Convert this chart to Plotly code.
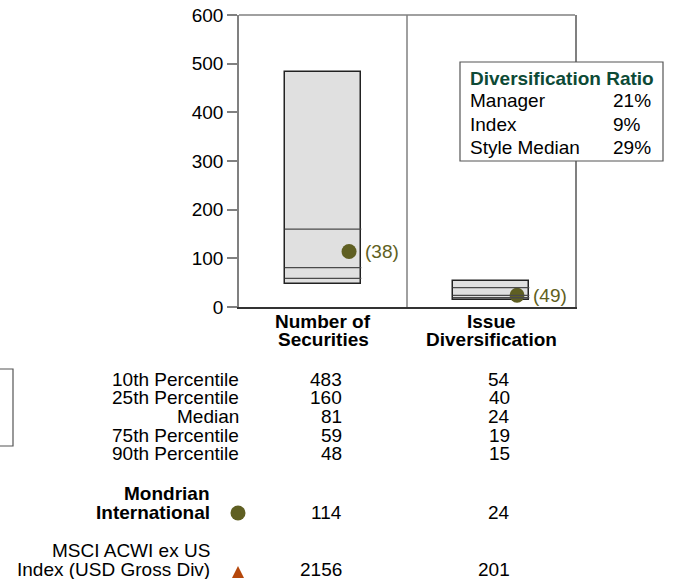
import plotly.graph_objects as go

# ---- data ----
cat_line1 = ["Number of", "Issue"]
cat_line2 = ["Securities", "Diversification"]
p10 = [483, 54]
p25 = [160, 40]
median = [81, 24]
p75 = [59, 19]
p90 = [48, 15]
manager = [114, 24]
manager_rank = ["(38)", "(49)"]
index_vals = [2156, 201]
row_labels = ["10th Percentile", "25th Percentile", "Median", "75th Percentile", "90th Percentile"]
ratio_labels = ["Manager", "Index", "Style Median"]
ratio_values = ["21%", "9%", "29%"]

W, H = 676, 579
L, R, T, B = 239, 575, 15, 307
FONT = "Liberation Sans, Arial, sans-serif"
FS = 19
OLIVE = "#5f5f22"
ORANGE = "#b5470b"
GRAY = "#808080"

def px(x):
    return (x - L) / (R - L)

def py(y):
    return (B - y) / (B - T)

xs = [0, 1]
box_w = 0.456
dot_off = 0.155
val_right = [342, 510]   # pixel right edges of the value columns

fig = go.Figure()
fig.add_trace(go.Bar(
    x=xs, y=[a - b for a, b in zip(p10, p90)], base=p90, width=box_w,
    marker=dict(color="#e0e0e0", line=dict(color="#222222", width=1.5)),
    hoverinfo="skip", showlegend=False))

shapes = []
for i in range(2):
    for v in (p25[i], median[i], p75[i]):
        shapes.append(dict(type="line", xref="x", yref="y", x0=xs[i] - box_w / 2, x1=xs[i] + box_w / 2,
                           y0=v, y1=v, line=dict(color="#4a4a4a", width=1.3)))

fig.add_trace(go.Scatter(
    x=[x + dot_off for x in xs], y=manager, mode="markers",
    marker=dict(color=OLIVE, size=15), cliponaxis=False, hoverinfo="skip", showlegend=False))

# borders
shapes.append(dict(type="line", xref="x", yref="paper", x0=0.5, x1=0.5, y0=0, y1=1, line=dict(color=GRAY, width=1.5)))
shapes.append(dict(type="line", xref="paper", yref="paper", x0=0, x1=1, y0=1, y1=1, line=dict(color=GRAY, width=1.5)))
# left partial box
shapes.append(dict(type="rect", xref="paper", yref="paper", x0=px(-5), x1=px(13), y0=py(446), y1=py(369),
                   line=dict(color="#555555", width=1.2)))
# ratio box
shapes.append(dict(type="rect", xref="paper", yref="paper", x0=px(460), x1=px(663), y0=py(161), y1=py(62),
                   fillcolor="white", line=dict(color="#555555", width=1.2), layer="above"))
# legend keys in the table
r = 7.5
shapes.append(dict(type="circle", xref="paper", yref="paper", x0=px(238 - r), x1=px(238 + r),
                   y0=py(513 + r), y1=py(513 - r), fillcolor=OLIVE, line=dict(width=0)))
shapes.append(dict(type="path", xref="paper", yref="paper",
                   path="M %f %f L %f %f L %f %f Z" % (px(232), py(578), px(244), py(578), px(238), py(566)),
                   fillcolor=ORANGE, line=dict(width=0)))

ann = []
def text(x, y, s, xanchor="center", xref="paper", yref="paper", color="black", bold=False, size=FS, xshift=0):
    adj = {"left": -2, "right": 2, "center": 0}[xanchor]
    ann.append(dict(x=x, y=y, xref=xref, yref=yref, text=("<b>%s</b>" % s) if bold else s,
                    showarrow=False, xanchor=xanchor, yanchor="middle", xshift=xshift + adj,
                    font=dict(family=FONT, size=size, color=color)))

# rank labels next to dots
for i in range(2):
    text(xs[i] + dot_off, manager[i], manager_rank[i], xanchor="left", xref="x", yref="y",
         color=OLIVE, xshift=16)

# category labels
for i in range(2):
    text(xs[i], py(321), cat_line1[i], xref="x", bold=True)
    text(xs[i], py(339), cat_line2[i], xref="x", bold=True)

# percentile table
row_y = [379, 397.5, 416, 435, 453.5]
series = [p10, p25, median, p75, p90]
for lab, yy, ser in zip(row_labels, row_y, series):
    text(px(239), py(yy), lab, xanchor="right")
    for i in range(2):
        text(px(val_right[i]), py(yy), str(ser[i]), xanchor="right")

# manager row
text(px(210), py(493), "Mondrian", xanchor="right", bold=True)
text(px(210), py(512), "International", xanchor="right", bold=True)
for i in range(2):
    text(px(val_right[i]), py(512), str(manager[i]), xanchor="right")

# index row
text(px(210), py(550), "MSCI ACWI ex US", xanchor="right")
text(px(210), py(569.5), "Index (USD Gross Div)", xanchor="right")
for i in range(2):
    text(px(val_right[i]), py(569.5), str(index_vals[i]), xanchor="right")

# ratio box text
text(px(470), py(78), "Diversification Ratio", xanchor="left", bold=True, color="#0d4a36")
for lab, val, yy in zip(ratio_labels, ratio_values, [101, 124, 147]):
    text(px(470), py(yy), lab, xanchor="left")
    text(px(613), py(yy), val, xanchor="left")

fig.update_layout(
    width=W, height=H, margin=dict(l=L, r=W - R, t=T, b=H - B, autoexpand=False),
    plot_bgcolor="white", paper_bgcolor="white",
    font=dict(family=FONT, size=FS, color="black"),
    xaxis=dict(range=[-0.5, 1.5], showticklabels=False, ticks="", showgrid=False, zeroline=False,
               showline=True, linecolor="#333333", linewidth=1.5, fixedrange=True, automargin=False),
    yaxis=dict(range=[0, 600], dtick=100, ticks="outside", ticklen=10, tickcolor=GRAY, tickwidth=1.5,
               showgrid=False, zeroline=False, showline=True, linecolor=GRAY, linewidth=1.5, mirror=True,
               tickfont=dict(family=FONT, size=FS), fixedrange=True, automargin=False),
    shapes=shapes, annotations=ann, bargap=0,
)
fig.write_html("out.html", config={"displayModeBar": False},
               post_script="document.body.style.margin='0';document.body.style.overflow='hidden';")
